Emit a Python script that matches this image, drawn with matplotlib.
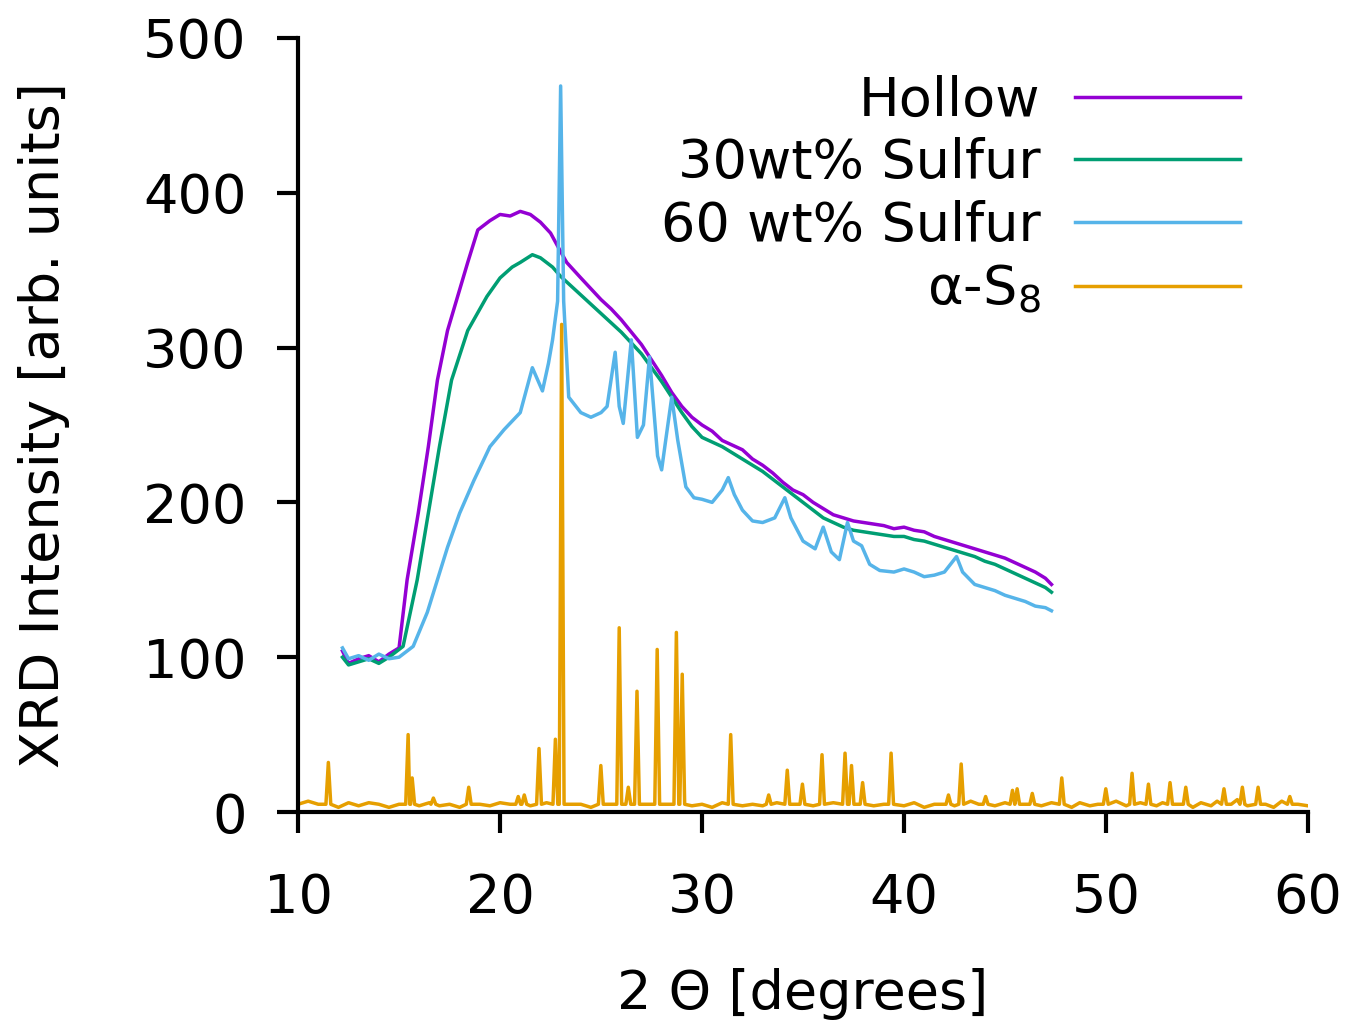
import matplotlib
matplotlib.use("Agg")
import matplotlib.pyplot as plt

# diffractogrammes
hollow_x = [12.2, 12.5, 13.0, 13.5, 14.0, 14.5, 15.0, 15.4, 15.95, 16.45, 16.9, 17.4, 17.9, 18.4, 18.9,
            19.5, 20.0, 20.5, 21.0, 21.5, 22.0, 22.5, 23.0, 23.3, 24.0, 24.5, 25.0, 25.5,
            26.0, 26.5, 27.0, 27.5, 28.0, 28.5, 29.0, 29.5, 30.0, 30.5, 31.0, 31.5, 32.0, 32.5, 33.0,
            33.5, 34.0, 34.5, 35.0, 35.5, 36.0, 36.5, 37.0, 37.5, 38.0, 38.5, 39.0, 39.5, 40.0, 40.5,
            41.0, 41.5, 42.0, 42.5, 43.0, 43.5, 44.0, 44.5, 45.0, 45.5, 46.0, 46.5, 47.0, 47.3]
hollow_y = [104, 96, 99, 101, 97, 102, 106, 150, 193, 236, 279, 311, 333, 355, 376,
            382, 386, 385, 388, 386, 381, 374, 362, 355, 345, 338, 331, 325,
            318, 310, 302, 292, 282, 271, 262, 255, 250, 246, 240, 237, 234, 228, 224,
            219, 213, 208, 205, 200, 196, 192, 190, 188, 187, 186, 185, 183, 184, 182,
            181, 178, 176, 174, 172, 170, 168, 166, 164, 161, 158, 155, 151, 147]

s30_x = [12.2, 12.5, 13.0, 13.5, 14.0, 14.5, 15.2, 15.9, 16.45, 17.0, 17.6, 18.4, 19.35, 20.0, 20.6,
         21.0, 21.6, 22.0, 22.6, 23.0, 23.5, 24.0, 24.5, 25.0, 25.5, 26.0, 26.5,
         27.0, 27.5, 28.0, 28.5, 29.0, 29.5, 30.0, 30.5, 31.0, 31.5, 32.0, 32.5, 33.0, 33.5, 34.0,
         34.5, 35.0, 35.5, 36.0, 36.5, 37.0, 37.5, 38.0, 38.5, 39.0, 39.5, 40.0, 40.5, 41.0, 41.5,
         42.0, 42.5, 43.0, 43.5, 44.0, 44.5, 45.0, 45.5, 46.0, 46.5, 47.0, 47.3]
s30_y = [100, 95, 97, 99, 96, 100, 107, 150, 193, 236, 279, 311, 333, 345, 352,
         355, 360, 358, 352, 346, 340, 334, 328, 322, 316, 310, 303,
         296, 287, 278, 268, 258, 249, 242, 239, 236, 232, 228, 224, 220, 215, 210,
         205, 200, 195, 190, 187, 184, 182, 181, 180, 179, 178, 178, 176, 175, 173,
         171, 169, 167, 165, 162, 160, 157, 154, 151, 148, 145, 142]

s60_x = [12.2, 12.5, 13.0, 13.5, 14.0, 14.5, 15.0, 15.7, 16.4, 16.9, 17.4, 18.0, 18.7, 19.5, 20.2,
         21.0, 21.6, 22.1, 22.4, 22.6, 22.85, 23.0, 23.15, 23.4, 24.0,
         24.5, 25.0, 25.3, 25.7, 25.9, 26.1, 26.5, 26.8, 27.1, 27.4, 27.8, 28.0, 28.2, 28.5, 28.8,
         29.2, 29.6, 30.0, 30.5, 31.0, 31.3, 31.6, 32.0, 32.5, 33.0, 33.6, 34.1, 34.4, 35.0, 35.6,
         36.0, 36.4, 36.8, 37.2, 37.5, 37.9, 38.3, 38.8, 39.5, 40.0, 40.5, 41.0, 41.5, 42.0, 42.6,
         42.9, 43.5, 44.0, 44.5, 45.0, 45.5, 46.0, 46.5, 47.0, 47.3]
s60_y = [106, 99, 101, 98, 102, 99, 100, 107, 129, 150, 171, 193, 214, 236, 247,
         258, 287, 272, 290, 305, 330, 469, 330, 268, 258,
         255, 258, 262, 297, 262, 251, 305, 242, 250, 294, 230, 221, 240, 268, 240,
         210, 203, 202, 200, 208, 216, 205, 195, 188, 187, 190, 203, 190, 175, 170,
         184, 168, 163, 187, 175, 172, 160, 156, 155, 157, 155, 152, 153, 155, 165,
         155, 147, 145, 143, 140, 138, 136, 133, 132, 130]

# alpha-S8 : fond continu + positions et hauteurs des pics
s8_fond_x = [10.0, 10.5, 11.0, 12.0, 12.5, 13.0, 13.5, 14.0, 14.5, 15.0, 16.0, 16.5, 17.0, 17.5, 18.0,
             19.0, 19.5, 20.0, 20.5, 21.5, 22.3, 24.0, 24.5, 25.5, 27.3, 29.5, 30.0, 30.5, 31.0, 32.0,
             32.5, 33.0, 33.7, 34.6, 35.5, 36.5, 38.5, 39.0, 40.0, 40.5, 41.0, 41.5, 42.5, 43.3, 43.7,
             44.5, 45.0, 46.0, 46.8, 47.3, 48.3, 48.7, 49.2, 49.6, 50.5, 51.0, 51.7, 52.5, 52.8, 53.6,
             54.3, 54.7, 55.2, 55.5, 56.2, 56.5, 57.0, 57.9, 58.3, 58.7, 59.5, 60.0]
s8_fond_y = [5, 7, 5, 3, 6, 4, 6, 5, 3, 5, 4, 6, 4, 5, 3,
             5, 4, 6, 5, 4, 6, 5, 3, 5, 5, 4, 5, 3, 6, 4,
             5, 4, 6, 5, 4, 6, 4, 5, 4, 6, 3, 5, 4, 7, 5,
             4, 6, 5, 4, 6, 3, 6, 4, 5, 7, 4, 6, 4, 6, 5,
             3, 6, 4, 7, 5, 8, 4, 5, 3, 7, 5, 4]
s8_pics_x = [11.5, 15.45, 15.65, 16.7, 18.45, 20.9, 21.2, 21.93, 22.74, 23.05, 24.99, 25.9, 26.35,
             26.78, 27.78, 28.73, 29.02, 31.42, 33.3, 34.22, 34.97, 35.94, 37.08, 37.4, 37.95, 39.36,
             42.2, 42.83, 44.04, 45.37, 45.6, 46.35, 47.81, 49.99, 51.29, 52.1, 53.17, 53.95, 55.84,
             56.75, 57.53, 59.1]
s8_pics_y = [32, 50, 22, 9, 16, 10, 11, 41, 47, 315, 30, 119, 16,
             78, 105, 116, 89, 50, 11, 27, 18, 37, 38, 30, 19, 38,
             11, 31, 10, 14, 15, 12, 22, 15, 25, 18, 19, 16, 15,
             16, 16, 10]

# tracer les pics comme des raies fines posees sur le fond
pts = list(zip(s8_fond_x, s8_fond_y))
for px, py in zip(s8_pics_x, s8_pics_y):
    pts += [(px - 0.12, 5), (px, py), (px + 0.12, 5)]
pts.sort()
s8_x = [p[0] for p in pts]
s8_y = [p[1] for p in pts]

plt.rcParams["font.family"] = "DejaVu Sans"
fig = plt.figure(figsize=(13.56, 10.21), dpi=100)
ax = fig.add_axes([0.2198, 0.2047, 0.7448, 0.7581])

ax.plot(hollow_x, hollow_y, color="#9400d3", lw=2.5, label="Hollow")
ax.plot(s30_x, s30_y, color="#009e73", lw=2.5, label="30wt% Sulfur")
ax.plot(s60_x, s60_y, color="#56b4e9", lw=2.5, label="60 wt% Sulfur")
ax.plot(s8_x, s8_y, color="#e69f00", lw=2.5, label="α-S$_8$")

ax.set_xlim(10, 60)
ax.set_ylim(0, 500)
ax.set_xticks(range(10, 61, 10))
ax.set_yticks(range(0, 501, 100))
ax.spines["top"].set_visible(False)
ax.spines["right"].set_visible(False)
ax.spines["left"].set_linewidth(3)
ax.spines["bottom"].set_linewidth(3)
ax.tick_params(axis="both", direction="out", length=15, width=3, labelsize=39)
ax.tick_params(axis="x", pad=28)
ax.tick_params(axis="y", pad=22)

ax.set_xlabel("2 Θ [degrees]", fontsize=39, labelpad=32)
ax.set_ylabel("XRD Intensity [arb. units]", fontsize=39, labelpad=53)

leg = ax.legend(loc="upper right", bbox_to_anchor=(0.9145, 0.927), bbox_transform=fig.transFigure,
                frameon=False, fontsize=39, markerfirst=False, handlelength=3.05,
                handletextpad=0.63, labelspacing=0.2, borderpad=0, borderaxespad=0)

plt.savefig("out.png", dpi=100)
